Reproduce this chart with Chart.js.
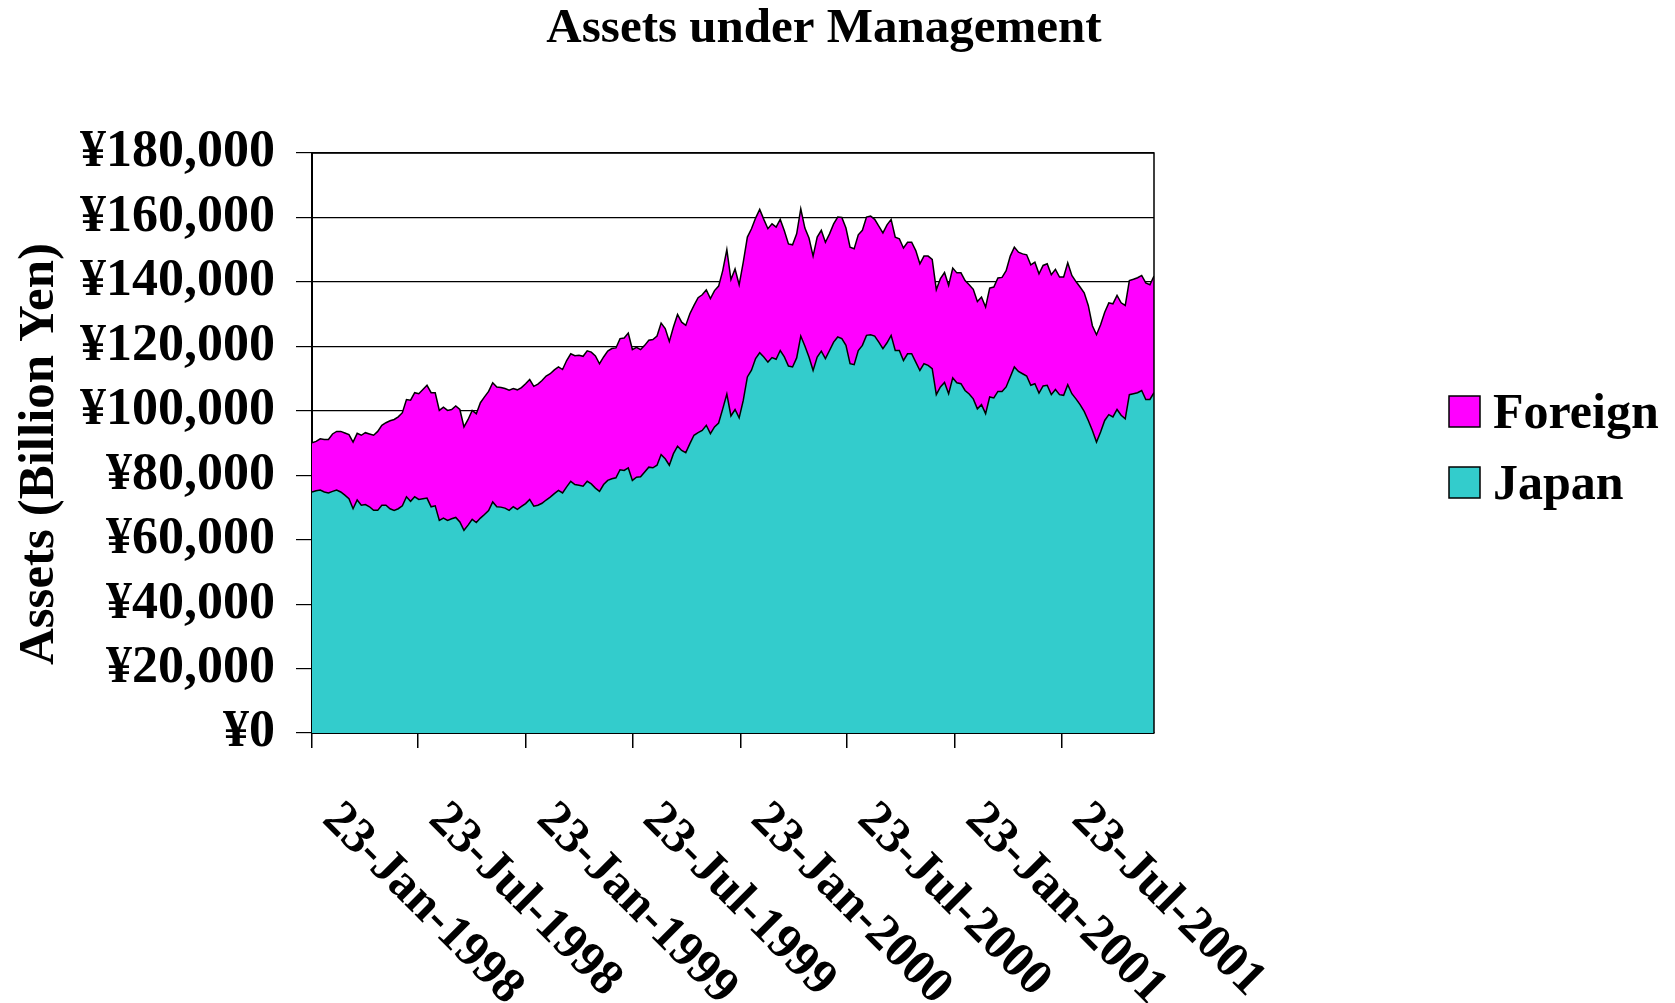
<!DOCTYPE html>
<html>
<head>
<meta charset="utf-8">
<title>Assets under Management</title>
<script src="https://cdn.jsdelivr.net/npm/chart.js@4.4.0/dist/chart.umd.min.js"></script>
<style>
  html, body { margin: 0; padding: 0; background: #fff; }
  #grafico { display: block; }
</style>
</head>
<body>
<canvas id="grafico" width="1675" height="1003"></canvas>
<script>
// datos semanales, primera semana el 23-Jan-1998 (miles de millones de yenes)
const fechaInicio = '1998-01-23';
const diasPorPunto = 7;

const japan = [
  74800, 75200, 75400, 74800, 74500, 75000, 75400, 74800, 73800, 72700,
  69600, 72300, 70700, 70900, 70200, 69100, 69100, 70700, 70700, 69600,
  69100, 69600, 70500, 73300, 71900, 73300, 72500, 72700, 72900, 70200,
  70500, 66000, 66700, 66000, 66500, 66900, 65500, 62900, 64500, 66300,
  65300, 66700, 67800, 69000, 71700, 70200, 70100, 69800, 69100, 70200,
  69400, 70300, 71200, 72500, 70400, 70700, 71300, 72300, 73200, 74300,
  75300, 74500, 76400, 78100, 77100, 76900, 76600, 78100, 77300, 76000,
  75000, 77100, 78400, 78900, 79200, 81700, 81500, 82300, 78400, 79400,
  79500, 81000, 82500, 82300, 83100, 86400, 85100, 83100, 86700, 89000,
  87700, 87000, 89800, 92400, 93200, 93900, 95500, 92900, 95000, 96200,
  100600, 105200, 98400, 100400, 97800, 103200, 110500, 112600, 116200, 118000,
  116700, 115100, 116500, 116000, 118700, 116700, 113900, 113600, 116400, 123200,
  120100, 116700, 112500, 116700, 118500, 116200, 118700, 121300, 122900, 122400,
  120300, 114600, 114300, 118700, 120300, 123400, 123600, 123200, 121300, 119300,
  121100, 123400, 118700, 118700, 115600, 117700, 117700, 115100, 112500, 114600,
  114100, 113100, 105000, 107400, 108800, 105300, 110200, 108700, 108400, 106300,
  105200, 103700, 100600, 101900, 99100, 104300, 104000, 106000, 106000, 107400,
  110500, 113600, 112200, 111500, 110800, 107900, 108400, 105500, 107700, 107900,
  105000, 106600, 105000, 104800, 108100, 105300, 103700, 101900, 99800, 97000,
  93900, 90300, 93400, 97000, 98800, 98100, 100400, 98600, 97500, 105000,
  105300, 105600, 106300, 103500, 103500, 105600
];

const foreign = [
  15300, 15300, 15900, 16300, 16600, 17800, 18200, 18800, 19300, 19900,
  20700, 20700, 21700, 22300, 22600, 23300, 24500, 24800, 25600, 27300,
  28200, 28500, 28900, 30200, 31400, 32300, 32800, 33900, 35000, 35400,
  35100, 34100, 34400, 34100, 33900, 34600, 34900, 32100, 32800, 33800,
  33800, 35800, 36500, 37000, 37000, 37200, 37100, 37100, 37300, 36700,
  37100, 36900, 37200, 37200, 37200, 37600, 38100, 38500, 38300, 38400,
  38300, 38300, 39200, 39600, 40000, 40300, 40300, 40500, 40900, 41000,
  39600, 39600, 40100, 40400, 40300, 40700, 41100, 41800, 40600, 40300,
  39500, 39300, 39400, 39800, 40100, 40800, 40400, 38400, 39300, 40900,
  39800, 39500, 40300, 40300, 41900, 42100, 42000, 41900, 42300, 42500,
  42900, 44800, 42300, 43600, 41300, 42900, 43400, 43900, 43600, 44500,
  42700, 41400, 41500, 41000, 40700, 39200, 37900, 37900, 38500, 39500,
  36600, 36900, 35500, 37200, 37500, 36100, 36200, 36700, 37200, 37600,
  36400, 36200, 36000, 35900, 35700, 36700, 36800, 36200, 36000, 35900,
  36600, 36000, 35200, 34700, 34900, 34600, 34600, 34600, 33100, 33400,
  33900, 33900, 32600, 33600, 34100, 33600, 34100, 34100, 34400, 34100,
  33900, 34000, 33300, 33400, 33100, 33800, 34400, 35200, 35400, 36100,
  37500, 37200, 37000, 37200, 37600, 37400, 37700, 37000, 37400, 37700,
  37200, 37300, 36500, 36700, 37800, 36700, 36400, 36500, 36800, 35700,
  32500, 33300, 33300, 33600, 34700, 35100, 35400, 34900, 35200, 35400,
  35500, 35700, 35700, 36200, 35600, 36200
];

const tickLabels = ['23-Jan-1998', '23-Jul-1998', '23-Jan-1999', '23-Jul-1999',
                    '23-Jan-2000', '23-Jul-2000', '23-Jan-2001', '23-Jul-2001'];
const tickFechas = ['1998-01-23', '1998-07-23', '1999-01-23', '1999-07-23',
                    '2000-01-23', '2000-07-23', '2001-01-23', '2001-07-23'];

const titulo = 'Assets under Management';
const tituloY = 'Assets (Billion Yen)';

const colorJapan = '#33CCCC';
const colorForeign = '#FF00FF';
const fuente = '"Liberation Serif", "Times New Roman", serif';

// dias desde la fecha de inicio
function dias(fecha) {
  return Math.round((Date.parse(fecha) - Date.parse(fechaInicio)) / 86400000);
}
const tickDias = tickFechas.map(dias);

function puntos(serie) {
  return serie.map((v, i) => ({ x: i * diasPorPunto, y: v }));
}

// titulos: el principal centrado como en Excel y el del eje y
const titulos = {
  id: 'titulos',
  afterDraw(chart) {
    const ctx = chart.ctx;
    ctx.save();
    ctx.fillStyle = '#000';
    ctx.textAlign = 'center';
    ctx.textBaseline = 'middle';
    ctx.font = 'bold 49px ' + fuente;
    ctx.fillText(titulo, 824, 29);
    ctx.translate(40, 454);
    ctx.rotate(-Math.PI / 2);
    ctx.font = 'bold 51px ' + fuente;
    ctx.fillText(tituloY, 0, 0);
    ctx.restore();
  }
};

// etiquetas del eje x giradas 45 grados hacia abajo
const etiquetasX = {
  id: 'etiquetasX',
  afterDraw(chart) {
    const escala = chart.scales.x;
    const ctx = chart.ctx;
    ctx.save();
    ctx.font = 'bold 50px ' + fuente;
    ctx.fillStyle = '#000';
    ctx.textAlign = 'left';
    ctx.textBaseline = 'alphabetic';
    escala.ticks.forEach((t, i) => {
      const px = escala.getPixelForValue(t.value);
      ctx.save();
      ctx.translate(px + 9, chart.chartArea.bottom + 88);
      ctx.rotate(Math.PI / 4);
      ctx.fillText(tickLabels[i], 0, 0);
      ctx.restore();
    });
    ctx.restore();
  }
};

// marco del area de trazado (arriba y derecha)
const marco = {
  id: 'marco',
  afterDatasetsDraw(chart) {
    const { ctx, chartArea: a } = chart;
    ctx.save();
    ctx.strokeStyle = '#000';
    ctx.lineWidth = 1.5;
    ctx.beginPath();
    ctx.moveTo(a.left, a.top);
    ctx.lineTo(a.right, a.top);
    ctx.lineTo(a.right, a.bottom);
    ctx.stroke();
    ctx.restore();
  }
};

// leyenda a la derecha
const leyenda = {
  id: 'leyenda',
  afterDraw(chart) {
    const ctx = chart.ctx;
    const items = [
      { label: 'Foreign', color: colorForeign },
      { label: 'Japan', color: colorJapan }
    ];
    ctx.save();
    ctx.font = 'bold 50px ' + fuente;
    ctx.textBaseline = 'middle';
    ctx.textAlign = 'left';
    items.forEach((it, i) => {
      const y = 412 + i * 71;
      ctx.fillStyle = it.color;
      ctx.fillRect(1449, y - 16, 31, 31);
      ctx.strokeStyle = '#000';
      ctx.lineWidth = 1.5;
      ctx.strokeRect(1449, y - 16, 31, 31);
      ctx.fillStyle = '#000';
      ctx.fillText(it.label, 1493, y + 3);
    });
    ctx.restore();
  }
};

new Chart(document.getElementById('grafico'), {
  type: 'line',
  data: {
    datasets: [
      {
        label: 'Japan',
        data: puntos(japan),
        backgroundColor: colorJapan,
        borderColor: '#000',
        borderWidth: 1.5,
        fill: 'origin',
        pointRadius: 0,
        tension: 0
      },
      {
        label: 'Foreign',
        data: puntos(foreign),
        backgroundColor: colorForeign,
        borderColor: '#000',
        borderWidth: 1.5,
        fill: '-1',
        pointRadius: 0,
        tension: 0
      }
    ]
  },
  options: {
    responsive: false,
    animation: false,
    devicePixelRatio: 1,
    layout: { padding: { left: 0, right: 521, top: 153, bottom: 0 } },
    plugins: {
      legend: { display: false },
      tooltip: { enabled: false },
      title: { display: false }
    },
    scales: {
      x: {
        type: 'linear',
        min: 0,
        max: (japan.length - 1) * diasPorPunto,
        afterBuildTicks: (s) => { s.ticks = tickDias.map(v => ({ value: v })); },
        afterFit: (s) => { s.height = 270; },
        ticks: { display: false },
        grid: { drawOnChartArea: false, drawTicks: true, tickLength: 15, color: '#000', lineWidth: 1.5 },
        border: { color: '#000', width: 2 }
      },
      y: {
        stacked: true,
        min: 0,
        max: 180000,
        afterFit: (s) => { s.width = 312; },
        ticks: {
          stepSize: 20000,
          autoSkip: false,
          color: '#000',
          padding: 21,
          font: { family: fuente, size: 52, weight: 'bold' },
          callback: (v) => '¥' + v.toLocaleString('en-US')
        },
        grid: { color: '#000', lineWidth: 1.2, tickLength: 16 },
        border: { color: '#000', width: 2 }
      }
    }
  },
  plugins: [titulos, etiquetasX, marco, leyenda]
});
</script>
</body>
</html>
